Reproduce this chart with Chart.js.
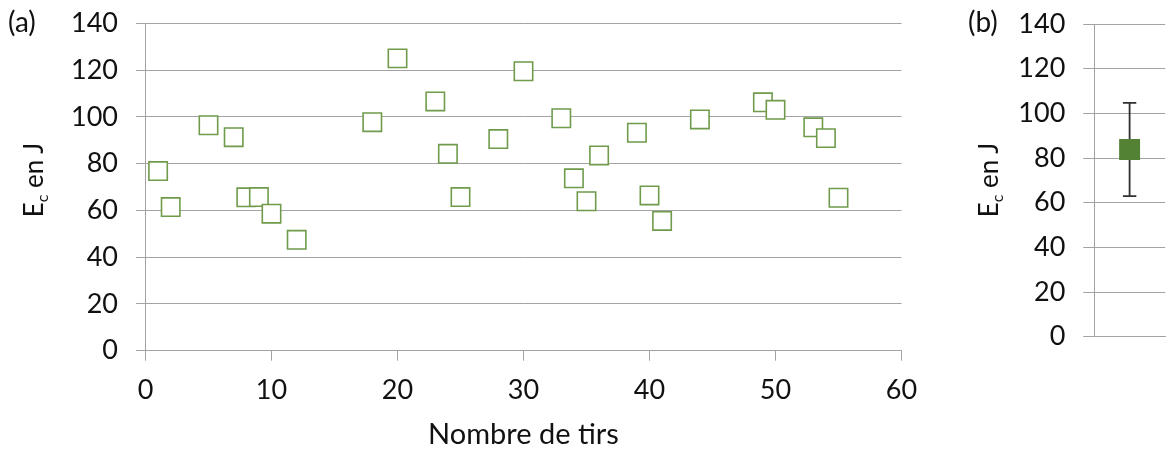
<!DOCTYPE html>
<html>
<head>
<meta charset="utf-8">
<script src="https://cdn.jsdelivr.net/npm/chart.js@4/dist/chart.umd.min.js"></script>
<style>
  html, body { margin:0; padding:0; width:1170px; height:452px; overflow:hidden; background:#fff; }
  body { position:relative; font-family: Lato, "Open Sans", sans-serif; color:#111; }
  #cA { position:absolute; left:0; top:0; }
  #cB { position:absolute; left:940px; top:0; }
  .lbl { position:absolute; font-size:28px; line-height:1; }
  .ytitle { position:absolute; font-size:26px; white-space:nowrap; transform:translate(-50%,-50%) rotate(-90deg); line-height:1; }
  .ytitle sub { font-size:16px; vertical-align:-5px; }
</style>
</head>
<body>
<canvas id="cA" width="925" height="452"></canvas>
<canvas id="cB" width="240" height="452"></canvas>
<div class="lbl" style="left:8px;top:7px;">(a)</div>
<div class="lbl" style="left:968px;top:7px;">(b)</div>
<div class="ytitle" style="left:35px;top:180px;">E<sub>c</sub> en J</div>
<div class="ytitle" style="left:990px;top:180px;">E<sub>c</sub> en J</div>
<script>
// ---- data ----
const shotNumbers = [1, 2, 5, 7, 8, 9, 10, 12, 18, 20, 23, 24, 25, 28, 30, 33, 34, 35, 36, 39, 40, 41, 44, 49, 50, 53, 54, 55];
const energies    = [76.8, 61.4, 96.4, 91.3, 65.6, 65.7, 58.6, 47.4, 97.7, 125.0, 106.6, 84.2, 65.7, 90.5, 119.5, 99.4, 73.7, 63.9, 83.5, 93.2, 66.4, 55.5, 98.9, 106.2, 103.0, 95.5, 90.9, 65.4];
const meanEnergy  = [83.8];
const errEnergy   = [20.9];
const xTitle = "Nombre de tirs";
const yRange = { min: 0, max: 140, step: 20 };
const xRange = { min: 0, max: 60, step: 10 };

const gridCol = '#a3a3a3';
const tickFont = { family: 'Lato', size: 27 };
const txtCol = '#111';

const scatterPts = shotNumbers.map((x, i) => ({ x, y: energies[i] }));

function noPad(s) { s.paddingTop = 0; s.paddingBottom = 0; s.paddingLeft = 0; s.paddingRight = 0; }

new Chart(document.getElementById('cA'), {
  type: 'scatter',
  data: { datasets: [{
    data: scatterPts,
    pointStyle: 'rect',
    pointRadius: 13,
    pointHoverRadius: 13,
    backgroundColor: '#ffffff',
    borderColor: '#6f9b4b',
    pointBorderWidth: 1.6,
    borderWidth: 1.6
  }]},
  options: {
    responsive: false, animation: false, devicePixelRatio: 1,
    layout: { padding: { top: 23.3, right: 23.5, left: 0, bottom: 0 } },
    plugins: { legend: { display: false }, tooltip: { enabled: false } },
    scales: {
      x: {
        type: 'linear', min: xRange.min, max: xRange.max,
        ticks: { stepSize: xRange.step, font: tickFont, color: txtCol, padding: 13 },
        grid: { drawOnChartArea: false, drawTicks: true, tickLength: 10, color: gridCol, lineWidth: 1 },
        border: { display: true, color: gridCol, width: 1 },
        title: { display: true, text: xTitle, font: { family: 'Lato', size: 29, lineHeight: 1.1 }, color: txtCol, padding: { top: 0, bottom: 1 } },
        afterFit: s => { noPad(s); s.height = 452 - 350.7; }
      },
      y: {
        min: yRange.min, max: yRange.max,
        ticks: { stepSize: yRange.step, font: tickFont, color: txtCol, padding: 18 },
        grid: { color: gridCol, lineWidth: 1, tickLength: 9.5 },
        border: { display: true, color: gridCol, width: 1 },
        afterFit: s => { noPad(s); s.width = 145.5; }
      }
    }
  }
});

const m = meanEnergy[0], e = errEnergy[0];
new Chart(document.getElementById('cB'), {
  type: 'scatter',
  data: { datasets: [
    {
      data: [{ x: 1, y: m }],
      pointStyle: 'rect', pointRadius: 14.8, pointHoverRadius: 14.8,
      backgroundColor: '#548235', borderColor: '#548235', pointBorderWidth: 0
    },
    {
      type: 'line',
      data: [{ x: 1, y: m - e }, { x: 1, y: m + e }],
      borderColor: '#303030', borderWidth: 1.8,
      pointStyle: 'line', pointRadius: 6.7, pointHoverRadius: 6.7,
      pointBorderColor: '#303030', pointBorderWidth: 1.8, fill: false
    }
  ]},
  options: {
    responsive: false, animation: false, devicePixelRatio: 1,
    layout: { padding: { top: 24, right: 8, left: 0, bottom: 0 } },
    plugins: { legend: { display: false }, tooltip: { enabled: false } },
    scales: {
      x: {
        type: 'linear', min: 0, max: 2,
        ticks: { display: false },
        grid: { display: false },
        border: { display: true, color: gridCol, width: 1 },
        afterFit: s => { noPad(s); s.height = 452 - 336.7; }
      },
      y: {
        min: yRange.min, max: yRange.max,
        ticks: { stepSize: yRange.step, font: tickFont, color: txtCol, padding: 18 },
        grid: { color: gridCol, lineWidth: 1, tickLength: 10.7 },
        border: { display: true, color: gridCol, width: 1 },
        afterFit: s => { noPad(s); s.width = 154; }
      }
    }
  }
});
</script>
</body>
</html>
